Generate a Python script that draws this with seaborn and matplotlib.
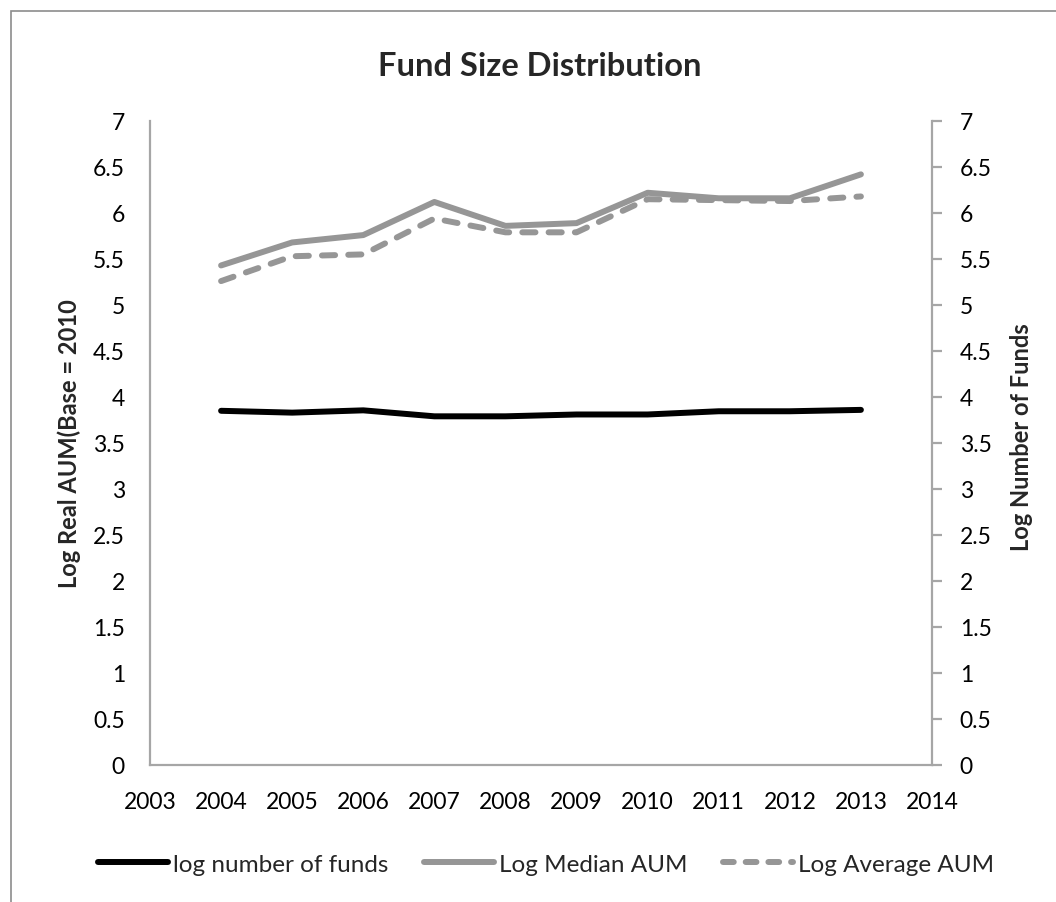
import matplotlib
matplotlib.use("Agg")
import matplotlib.pyplot as plt
from matplotlib.lines import Line2D
from matplotlib.patches import Rectangle
import seaborn as sns
import pandas as pd

# Series values (log scale)
years = [2004, 2005, 2006, 2007, 2008, 2009, 2010, 2011, 2012, 2013]
log_num_funds = [3.85, 3.83, 3.855, 3.79, 3.79, 3.81, 3.81, 3.845, 3.845, 3.86]
log_median_aum = [5.43, 5.68, 5.76, 6.12, 5.86, 5.89, 6.22, 6.16, 6.16, 6.42]
log_average_aum = [5.26, 5.53, 5.55, 5.94, 5.79, 5.79, 6.15, 6.14, 6.13, 6.18]

x_ticks = list(range(2003, 2015))
y_ticks = [0, 0.5, 1, 1.5, 2, 2.5, 3, 3.5, 4, 4.5, 5, 5.5, 6, 6.5, 7]

title = "Fund Size Distribution"
left_label = "Log Real AUM(Base = 2010"
right_label = "Log Number of Funds"
names = ["log number of funds", "Log Median AUM", "Log Average AUM"]

sns.set_theme(style="white")
plt.rcParams["font.family"] = ["Lato", "DejaVu Sans"]

BLACK = "#000000"
GRAY = "#969696"
AXIS = "#A6A6A6"
LW = 4.3
TICK_FS = 16.5

df = pd.DataFrame({
    "year": years,
    "funds": log_num_funds,
    "median": log_median_aum,
    "average": log_average_aum,
})

fig = plt.figure(figsize=(10.56, 9.03), dpi=100)
ax = fig.add_axes([150 / 1056, 137 / 903, (932 - 150) / 1056, (766 - 122) / 903])
ax2 = ax.twinx()

sns.lineplot(data=df, x="year", y="median", ax=ax, color=GRAY, linewidth=LW,
             solid_capstyle="round", solid_joinstyle="round")
sns.lineplot(data=df, x="year", y="average", ax=ax, color=GRAY, linewidth=LW,
             dashes=False, linestyle=(0, (2.2, 2.2)), dash_capstyle="round",
             dash_joinstyle="round")
sns.lineplot(data=df, x="year", y="funds", ax=ax2, color=BLACK, linewidth=LW,
             solid_capstyle="round", solid_joinstyle="round")

for a in (ax, ax2):
    a.set_xlim(2003, 2014)
    a.set_ylim(0, 7)
    a.set_yticks(y_ticks)
    a.set_yticklabels([f"{t:g}" for t in y_ticks])
    a.grid(False)
    for s in a.spines.values():
        s.set_visible(False)

ax.set_xticks(x_ticks)
ax.set_xticklabels([str(t) for t in x_ticks])
ax.spines["left"].set_visible(True)
ax.spines["bottom"].set_visible(True)
ax.spines["left"].set_color(AXIS)
ax.spines["bottom"].set_color(AXIS)
ax.spines["left"].set_linewidth(1.6)
ax.spines["bottom"].set_linewidth(1.6)
ax.tick_params(axis="both", length=0, labelsize=TICK_FS, colors="black")
ax.tick_params(axis="y", pad=18)
ax.tick_params(axis="x", pad=19)

ax2.spines["right"].set_visible(True)
ax2.spines["right"].set_color(AXIS)
ax2.spines["right"].set_linewidth(1.6)
ax2.tick_params(axis="y", length=7, width=1.6, color=AXIS, direction="out",
                labelsize=TICK_FS, labelcolor="black", pad=13, right=True, left=False)

ax.set_xlabel("")
ax.set_ylabel(left_label, fontsize=17, fontweight="bold")
ax2.set_ylabel(right_label, fontsize=17, fontweight="bold")
ax.yaxis.set_label_coords((81 - 150) / 782, 0.5)
ax2.yaxis.set_label_coords((1010 - 150) / 782, 0.51)
ax.patch.set_alpha(0)

fig.text(540 / 1056, 1 - 66 / 903, title, ha="center", va="center",
         fontsize=23.5, fontweight="bold")

handles = [
    Line2D([], [], color=BLACK, linewidth=LW, solid_capstyle="round"),
    Line2D([], [], color=GRAY, linewidth=LW, solid_capstyle="round"),
    Line2D([], [], color=GRAY, linewidth=LW, linestyle=(0, (1.8, 2.0)),
           dash_capstyle="round"),
]
fig.legend(handles, names, loc="center", bbox_to_anchor=(546 / 1056, 1 - 865 / 903),
           ncol=3, frameon=False, fontsize=17.5, handlelength=2.9,
           handletextpad=0.2, columnspacing=1.45)

fig.patches.append(Rectangle((11 / 1056, -0.1), 1.2, 1 - 12 / 903 + 0.1,
                             transform=fig.transFigure, fill=False,
                             edgecolor="#8C8C8C", linewidth=1.2, zorder=0))

fig.savefig("out.png", dpi=100, facecolor="white")
